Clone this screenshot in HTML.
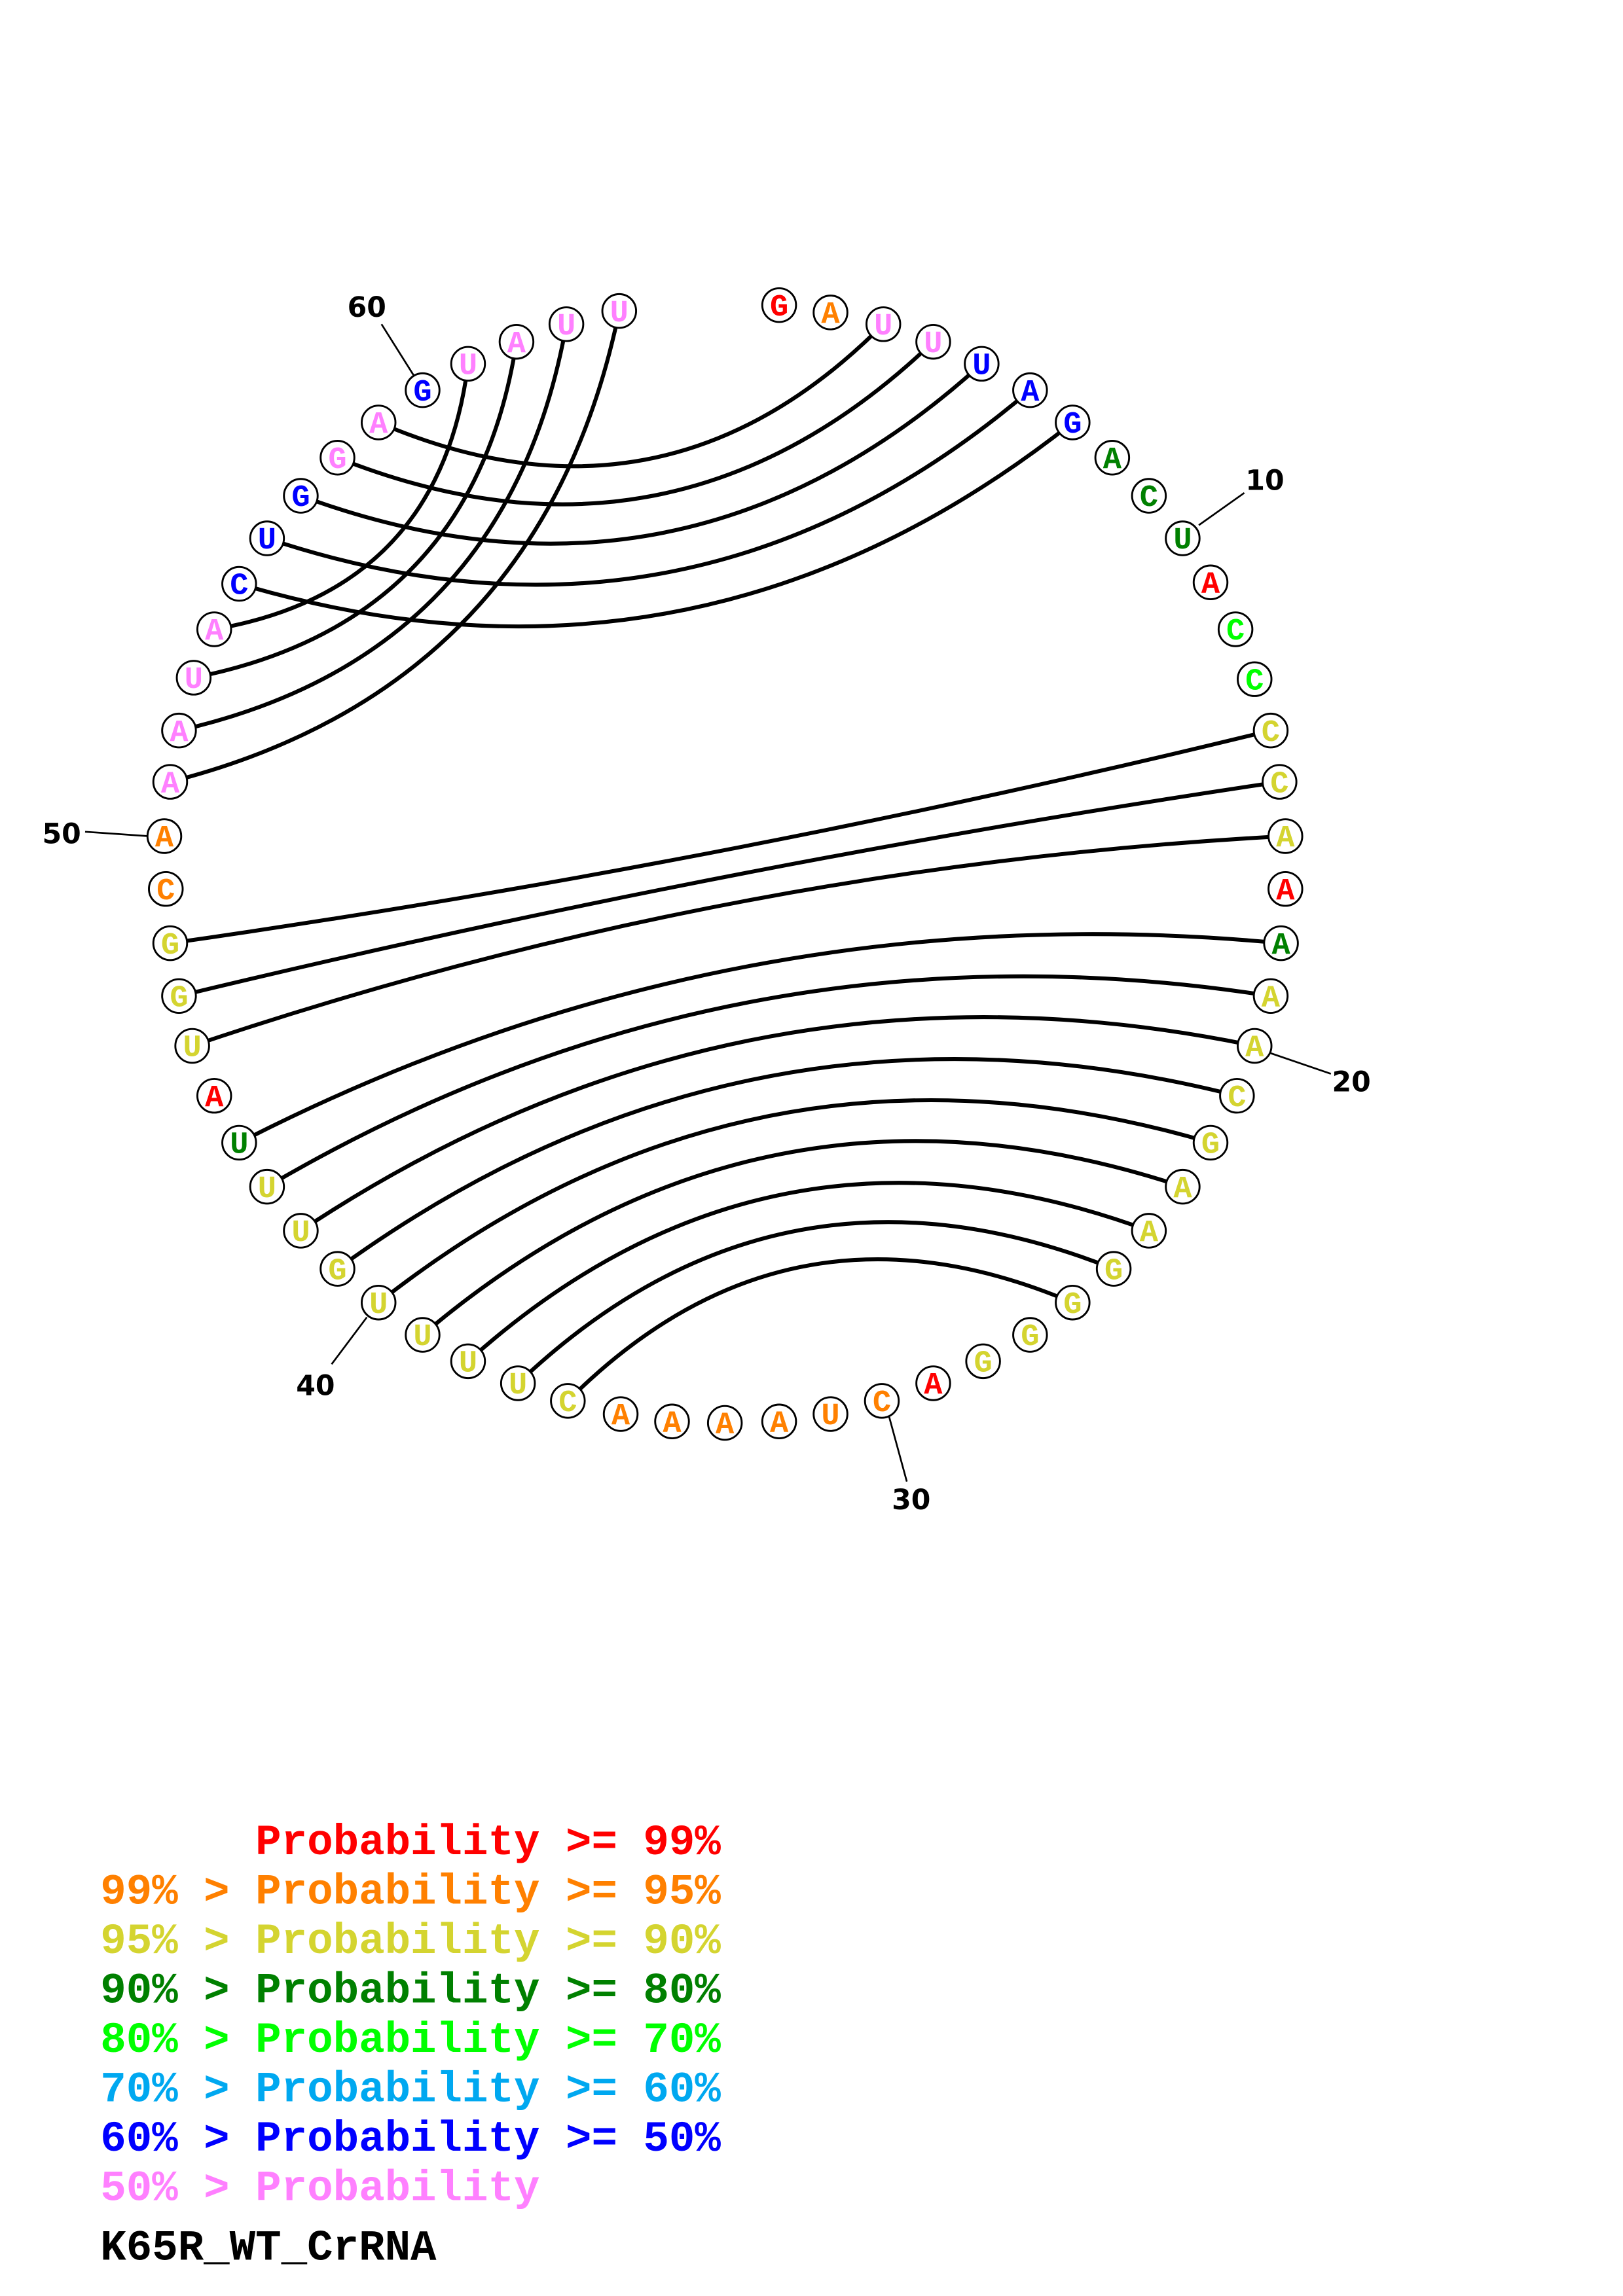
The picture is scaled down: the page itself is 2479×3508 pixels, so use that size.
<!DOCTYPE html>
<html><head><meta charset="utf-8"><style>html,body{margin:0;padding:0;background:#fff}svg{display:block}</style></head>
<body>
<svg xmlns="http://www.w3.org/2000/svg" width="2479" height="3508" viewBox="0 0 1100 1556.6" preserveAspectRatio="none">
<rect width="1100" height="1556.6" fill="#fff"/>
<g transform="scale(0.9945)">
<g fill="none" stroke="#000" stroke-width="2.7">
<path d="M602,221 Q452.6,371.6 258,288"/>
<path d="M636,233 Q458.4,403.2 230,312"/>
<path d="M669,248 Q464.4,433.9 205,338"/>
<path d="M702,266 Q470.3,463.4 182,367"/>
<path d="M731,288 Q475.5,490.6 163,398"/>
<path d="M319,248 Q299.6,402.6 146,429"/>
<path d="M352,233 Q322.5,424.5 132,462"/>
<path d="M386,221 Q345.9,447.2 122,498"/>
<path d="M422,212 Q369.1,468.6 116,533"/>
<path d="M866,498 Q494.5,589 116,643"/>
<path d="M872,533 Q494.5,589 122,679"/>
<path d="M876,570 Q494.7,590.2 131,713"/>
<path d="M873,643 Q498,607.1 163,779"/>
<path d="M866,679 Q500.7,621.7 182,809"/>
<path d="M855,713 Q504.2,640 205,839"/>
<path d="M843,747 Q508.7,662.1 230,865"/>
<path d="M825,779 Q513.3,686.8 258,888"/>
<path d="M806,809 Q518.7,713.7 288,910"/>
<path d="M783,839 Q524.1,743.3 319,928"/>
<path d="M759,865 Q530.6,773.9 353,943"/>
<path d="M731,888 Q536.4,805.1 387,955"/>
</g>
<g stroke="#000" stroke-width="1.2">
<line x1="817" y1="358" x2="848" y2="336"/>
<line x1="866" y1="718" x2="907" y2="732"/>
<line x1="606" y1="966" x2="618" y2="1010"/>
<line x1="250" y1="898" x2="226" y2="930"/>
<line x1="58" y1="567" x2="101" y2="570"/>
<line x1="260" y1="221" x2="282" y2="256"/>
</g>
<g font-family="'DejaVu Sans', sans-serif" font-weight="bold" font-size="19" text-anchor="middle" fill="#000">
<text x="862" y="334">10</text>
<text x="921" y="744">20</text>
<text x="621" y="1029">30</text>
<text x="215" y="951">40</text>
<text x="42" y="575">50</text>
<text x="250" y="216">60</text>
</g>
<g fill="#fff" stroke="#000" stroke-width="1.3">
<circle cx="531" cy="208" r="11.5"/><circle cx="566" cy="213" r="11.5"/><circle cx="602" cy="221" r="11.5"/><circle cx="636" cy="233" r="11.5"/><circle cx="669" cy="248" r="11.5"/><circle cx="702" cy="266" r="11.5"/><circle cx="731" cy="288" r="11.5"/><circle cx="758" cy="312" r="11.5"/><circle cx="783" cy="338" r="11.5"/><circle cx="806" cy="367" r="11.5"/>
<circle cx="825" cy="397" r="11.5"/><circle cx="842" cy="429" r="11.5"/><circle cx="855" cy="463" r="11.5"/><circle cx="866" cy="498" r="11.5"/><circle cx="872" cy="533" r="11.5"/><circle cx="876" cy="570" r="11.5"/><circle cx="876" cy="606" r="11.5"/><circle cx="873" cy="643" r="11.5"/><circle cx="866" cy="679" r="11.5"/><circle cx="855" cy="713" r="11.5"/>
<circle cx="843" cy="747" r="11.5"/><circle cx="825" cy="779" r="11.5"/><circle cx="806" cy="809" r="11.5"/><circle cx="783" cy="839" r="11.5"/><circle cx="759" cy="865" r="11.5"/><circle cx="731" cy="888" r="11.5"/><circle cx="702" cy="910" r="11.5"/><circle cx="670" cy="928" r="11.5"/><circle cx="636" cy="943" r="11.5"/><circle cx="601" cy="955" r="11.5"/>
<circle cx="566" cy="964" r="11.5"/><circle cx="531" cy="969" r="11.5"/><circle cx="494" cy="970" r="11.5"/><circle cx="458" cy="969" r="11.5"/><circle cx="423" cy="964" r="11.5"/><circle cx="387" cy="955" r="11.5"/><circle cx="353" cy="943" r="11.5"/><circle cx="319" cy="928" r="11.5"/><circle cx="288" cy="910" r="11.5"/><circle cx="258" cy="888" r="11.5"/>
<circle cx="230" cy="865" r="11.5"/><circle cx="205" cy="839" r="11.5"/><circle cx="182" cy="809" r="11.5"/><circle cx="163" cy="779" r="11.5"/><circle cx="146" cy="747" r="11.5"/><circle cx="131" cy="713" r="11.5"/><circle cx="122" cy="679" r="11.5"/><circle cx="116" cy="643" r="11.5"/><circle cx="113" cy="606" r="11.5"/><circle cx="112" cy="570" r="11.5"/>
<circle cx="116" cy="533" r="11.5"/><circle cx="122" cy="498" r="11.5"/><circle cx="132" cy="462" r="11.5"/><circle cx="146" cy="429" r="11.5"/><circle cx="163" cy="398" r="11.5"/><circle cx="182" cy="367" r="11.5"/><circle cx="205" cy="338" r="11.5"/><circle cx="230" cy="312" r="11.5"/><circle cx="258" cy="288" r="11.5"/><circle cx="288" cy="266" r="11.5"/>
<circle cx="319" cy="248" r="11.5"/><circle cx="352" cy="233" r="11.5"/><circle cx="386" cy="221" r="11.5"/><circle cx="422" cy="212" r="11.5"/>
</g>
<g font-family="'Liberation Mono', monospace" font-weight="bold" font-size="21" text-anchor="middle">
<text x="531" y="215" fill="#ff0000">G</text><text x="566" y="220" fill="#ff8000">A</text><text x="602" y="228" fill="#ff80ff">U</text><text x="636" y="240" fill="#ff80ff">U</text><text x="669" y="255" fill="#0000ff">U</text><text x="702" y="273" fill="#0000ff">A</text><text x="731" y="295" fill="#0000ff">G</text><text x="758" y="319" fill="#008000">A</text><text x="783" y="345" fill="#008000">C</text><text x="806" y="374" fill="#008000">U</text>
<text x="825" y="404" fill="#ff0000">A</text><text x="842" y="436" fill="#00ff00">C</text><text x="855" y="470" fill="#00ff00">C</text><text x="866" y="505" fill="#d4d430">C</text><text x="872" y="540" fill="#d4d430">C</text><text x="876" y="577" fill="#d4d430">A</text><text x="876" y="613" fill="#ff0000">A</text><text x="873" y="650" fill="#008000">A</text><text x="866" y="686" fill="#d4d430">A</text><text x="855" y="720" fill="#d4d430">A</text>
<text x="843" y="754" fill="#d4d430">C</text><text x="825" y="786" fill="#d4d430">G</text><text x="806" y="816" fill="#d4d430">A</text><text x="783" y="846" fill="#d4d430">A</text><text x="759" y="872" fill="#d4d430">G</text><text x="731" y="895" fill="#d4d430">G</text><text x="702" y="917" fill="#d4d430">G</text><text x="670" y="935" fill="#d4d430">G</text><text x="636" y="950" fill="#ff0000">A</text><text x="601" y="962" fill="#ff8000">C</text>
<text x="566" y="971" fill="#ff8000">U</text><text x="531" y="976" fill="#ff8000">A</text><text x="494" y="977" fill="#ff8000">A</text><text x="458" y="976" fill="#ff8000">A</text><text x="423" y="971" fill="#ff8000">A</text><text x="387" y="962" fill="#d4d430">C</text><text x="353" y="950" fill="#d4d430">U</text><text x="319" y="935" fill="#d4d430">U</text><text x="288" y="917" fill="#d4d430">U</text><text x="258" y="895" fill="#d4d430">U</text>
<text x="230" y="872" fill="#d4d430">G</text><text x="205" y="846" fill="#d4d430">U</text><text x="182" y="816" fill="#d4d430">U</text><text x="163" y="786" fill="#008000">U</text><text x="146" y="754" fill="#ff0000">A</text><text x="131" y="720" fill="#d4d430">U</text><text x="122" y="686" fill="#d4d430">G</text><text x="116" y="650" fill="#d4d430">G</text><text x="113" y="613" fill="#ff8000">C</text><text x="112" y="577" fill="#ff8000">A</text>
<text x="116" y="540" fill="#ff80ff">A</text><text x="122" y="505" fill="#ff80ff">A</text><text x="132" y="469" fill="#ff80ff">U</text><text x="146" y="436" fill="#ff80ff">A</text><text x="163" y="405" fill="#0000ff">C</text><text x="182" y="374" fill="#0000ff">U</text><text x="205" y="345" fill="#0000ff">G</text><text x="230" y="319" fill="#ff80ff">G</text><text x="258" y="295" fill="#ff80ff">A</text><text x="288" y="273" fill="#0000ff">G</text>
<text x="319" y="255" fill="#ff80ff">U</text><text x="352" y="240" fill="#ff80ff">A</text><text x="386" y="228" fill="#ff80ff">U</text><text x="422" y="219" fill="#ff80ff">U</text>
</g>
</g>
<g font-family="'Liberation Mono', monospace" font-weight="bold" font-size="29.2" xml:space="preserve">
<text x="68" y="1257" fill="#ff0000" xml:space="preserve">      Probability &gt;= 99%</text>
<text x="68" y="1290.5" fill="#ff8000" xml:space="preserve">99% &gt; Probability &gt;= 95%</text>
<text x="68" y="1324" fill="#d4d430" xml:space="preserve">95% &gt; Probability &gt;= 90%</text>
<text x="68" y="1357.5" fill="#008000" xml:space="preserve">90% &gt; Probability &gt;= 80%</text>
<text x="68" y="1391" fill="#00ff00" xml:space="preserve">80% &gt; Probability &gt;= 70%</text>
<text x="68" y="1424.5" fill="#00a8f0" xml:space="preserve">70% &gt; Probability &gt;= 60%</text>
<text x="68" y="1458" fill="#0000ff" xml:space="preserve">60% &gt; Probability &gt;= 50%</text>
<text x="68" y="1491.5" fill="#ff80ff" xml:space="preserve">50% &gt; Probability</text>
<text x="68" y="1532" fill="#000">K65R_WT_CrRNA</text>
</g>
</svg>
</body></html>
